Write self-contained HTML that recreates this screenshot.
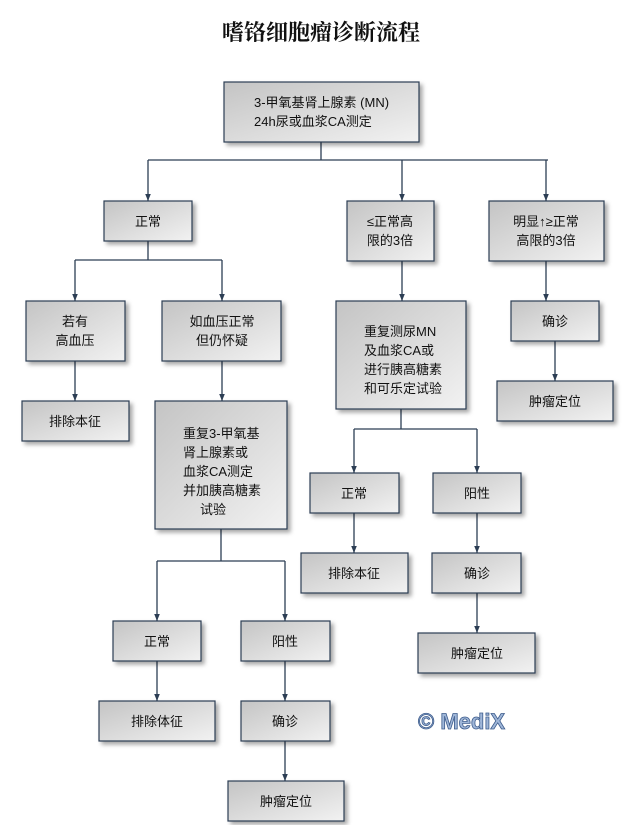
<!DOCTYPE html>
<html><head><meta charset="utf-8"><style>
body{margin:0;background:#fff;}
svg{display:block;}
text{font-family:"Liberation Sans","Noto Sans CJK SC",sans-serif;font-size:13px;fill:#111;}
</style></head><body>
<svg width="642" height="825" viewBox="0 0 642 825" xmlns="http://www.w3.org/2000/svg">
<defs>
<linearGradient id="g" x1="0" y1="0" x2="1" y2="1">
<stop offset="0" stop-color="#c4c4c4"/><stop offset="1" stop-color="#f2f2f2"/>
</linearGradient>
<marker id="a" viewBox="0 0 10 10" refX="10" refY="5" markerWidth="7" markerHeight="10" orient="auto" markerUnits="userSpaceOnUse">
<path d="M0,1 L10,5 L0,9 z" fill="#2c3e54"/>
</marker>
</defs>
<text x="321" y="40" text-anchor="middle" style="font-family:'Noto Serif CJK SC','Liberation Serif',serif;font-size:22px;font-weight:bold;">嗜铬细胞瘤诊断流程</text>
<g stroke="#2c3e54" stroke-width="1.3" fill="none">
<path d="M321,142V160M148,160H548"/>
<path d="M148,160V201" marker-end="url(#a)"/>
<path d="M402,160V201" marker-end="url(#a)"/>
<path d="M546,160V201" marker-end="url(#a)"/>
<path d="M148,241V260M75,260H222"/>
<path d="M75,260V301" marker-end="url(#a)"/>
<path d="M222,260V301" marker-end="url(#a)"/>
<path d="M75,361V401" marker-end="url(#a)"/>
<path d="M222,361V401" marker-end="url(#a)"/>
<path d="M221,529V561M157,561H285"/>
<path d="M157,561V621" marker-end="url(#a)"/>
<path d="M285,561V621" marker-end="url(#a)"/>
<path d="M157,661V701" marker-end="url(#a)"/>
<path d="M285,661V701" marker-end="url(#a)"/>
<path d="M285,741V781" marker-end="url(#a)"/>
<path d="M402,261V301" marker-end="url(#a)"/>
<path d="M401,409V429M354,429H477"/>
<path d="M354,429V473" marker-end="url(#a)"/>
<path d="M477,429V473" marker-end="url(#a)"/>
<path d="M354,513V553" marker-end="url(#a)"/>
<path d="M477,513V553" marker-end="url(#a)"/>
<path d="M477,593V633" marker-end="url(#a)"/>
<path d="M546,261V301" marker-end="url(#a)"/>
<path d="M555,341V381" marker-end="url(#a)"/>
</g>
<g fill="url(#g)" stroke="#2c3e54" stroke-width="1.2" style="filter:drop-shadow(3px 3px 2px rgba(0,0,0,0.35))">
<rect x="224" y="82" width="195" height="60"/>
<rect x="104" y="201" width="88" height="40"/>
<rect x="347" y="201" width="87" height="60"/>
<rect x="489" y="201" width="115" height="60"/>
<rect x="26" y="301" width="99" height="60"/>
<rect x="162" y="301" width="119" height="60"/>
<rect x="22" y="401" width="107" height="40"/>
<rect x="155" y="401" width="132" height="128"/>
<rect x="336" y="301" width="130" height="108"/>
<rect x="511" y="301" width="88" height="40"/>
<rect x="497" y="381" width="116" height="40"/>
<rect x="310" y="473" width="89" height="40"/>
<rect x="433" y="473" width="88" height="40"/>
<rect x="301" y="553" width="107" height="40"/>
<rect x="432" y="553" width="89" height="40"/>
<rect x="418" y="633" width="117" height="40"/>
<rect x="113" y="621" width="88" height="40"/>
<rect x="241" y="621" width="89" height="40"/>
<rect x="99" y="701" width="116" height="40"/>
<rect x="241" y="701" width="89" height="40"/>
<rect x="228" y="781" width="116" height="40"/>
</g>
<g>
<text x="254" y="107">3-甲氧基肾上腺素 (MN)</text>
<text x="254" y="126">24h尿或血浆CA测定</text>
<text x="148" y="226" text-anchor="middle">正常</text>
<text x="390" y="226" text-anchor="middle">≤正常高</text>
<text x="390" y="245" text-anchor="middle">限的3倍</text>
<text x="546" y="226" text-anchor="middle">明显↑≥正常</text>
<text x="546" y="245" text-anchor="middle">高限的3倍</text>
<text x="75" y="326" text-anchor="middle">若有</text>
<text x="75" y="345" text-anchor="middle">高血压</text>
<text x="222" y="326" text-anchor="middle">如血压正常</text>
<text x="222" y="345" text-anchor="middle">但仍怀疑</text>
<text x="75" y="426" text-anchor="middle">排除本征</text>
<text x="183" y="438">重复3-甲氧基</text>
<text x="183" y="457">肾上腺素或</text>
<text x="183" y="476">血浆CA测定</text>
<text x="183" y="495">并加胰高糖素</text>
<text x="200" y="514">试验</text>
<text x="364" y="336">重复测尿MN</text>
<text x="364" y="355">及血浆CA或</text>
<text x="364" y="374">进行胰高糖素</text>
<text x="364" y="393">和可乐定试验</text>
<text x="555" y="326" text-anchor="middle">确诊</text>
<text x="555" y="406" text-anchor="middle">肿瘤定位</text>
<text x="354" y="498" text-anchor="middle">正常</text>
<text x="477" y="498" text-anchor="middle">阳性</text>
<text x="354" y="578" text-anchor="middle">排除本征</text>
<text x="477" y="578" text-anchor="middle">确诊</text>
<text x="477" y="658" text-anchor="middle">肿瘤定位</text>
<text x="157" y="646" text-anchor="middle">正常</text>
<text x="285" y="646" text-anchor="middle">阳性</text>
<text x="157" y="726" text-anchor="middle">排除体征</text>
<text x="285" y="726" text-anchor="middle">确诊</text>
<text x="286" y="806" text-anchor="middle">肿瘤定位</text>
</g>
<text x="418" y="729" style="font-size:22px;font-weight:bold;fill:#9fb6d8;stroke:#3d5c8c;stroke-width:0.8;">© MediX</text>
</svg>
</body></html>
